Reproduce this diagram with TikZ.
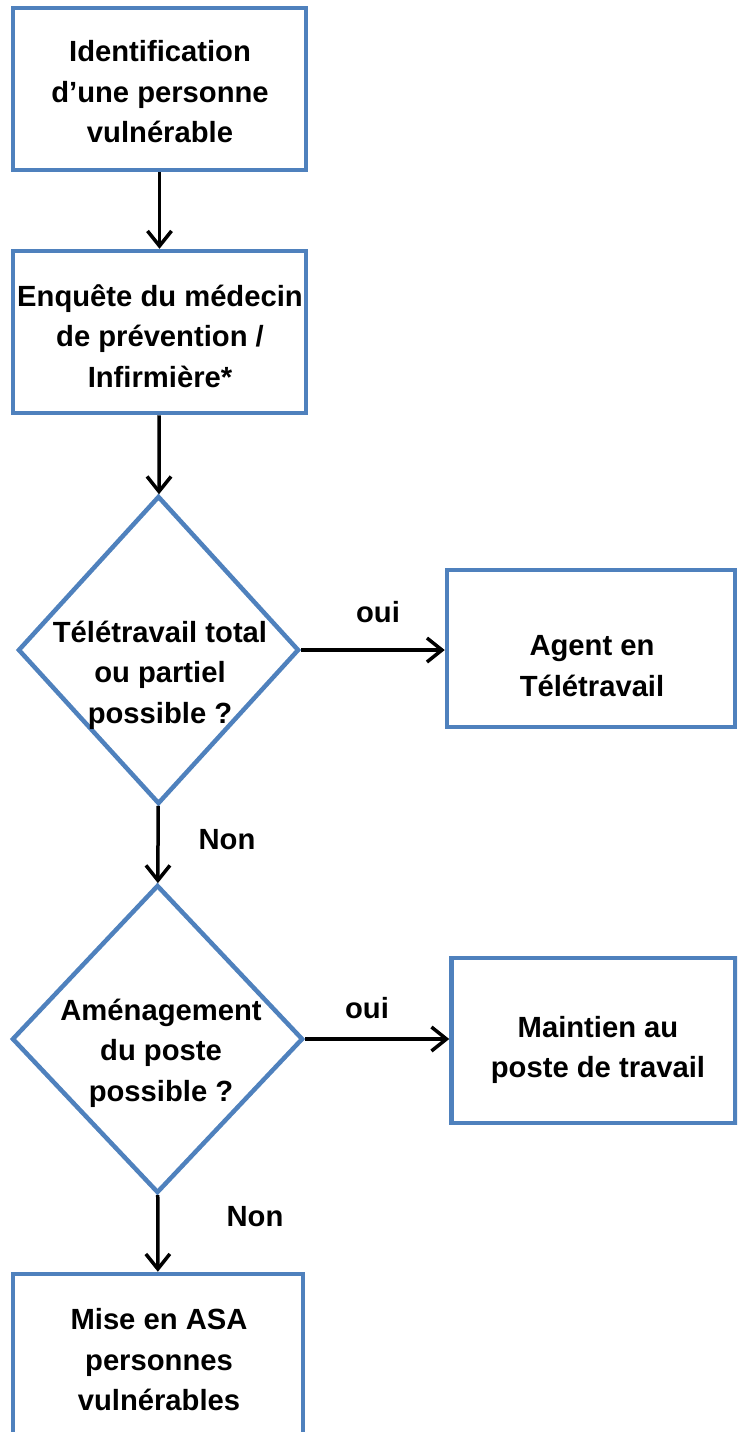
\documentclass[tikz,border=0pt]{standalone}
\usepackage{fontspec}
\setmainfont{Liberation Sans}
\usetikzlibrary{shapes.geometric}
\usetikzlibrary{arrows.meta}
\definecolor{boxblue}{RGB}{79,129,189}

\begin{document}
\begin{tikzpicture}[x=1pt,y=-1pt,
    etape/.style={draw=boxblue,line width=4.5pt,inner sep=0pt,minimum height=162pt},
    choix/.style={diamond,draw=boxblue,line width=4.5pt,inner sep=0pt},
    texte/.style={align=center,font=\fontsize{29.2}{40.5}\selectfont\bfseries},
    fleche/.style={line width=3.5pt,-{Straight Barb[length=15pt,width=24pt]}}]
    \useasboundingbox (0,0) rectangle (737,1432);
    \clip (0,0) rectangle (737,1432);
    % les cases
    \node[etape,minimum width=293pt] (ident) at (159.5,89) {};
    \node[etape,minimum width=293pt] (enquete) at (159.5,332) {};
    \node[choix,minimum width=281pt,minimum height=308pt] (teletravail) at (158.5,650) {};
    \node[etape,minimum width=288pt,minimum height=157pt] (agent) at (591,648.5) {};
    \node[choix,minimum width=291pt,minimum height=308pt] (amenag) at (157.5,1039) {};
    \node[etape,minimum width=284pt,minimum height=165pt] (maintien) at (593.5,1040.5) {};
    \node[etape,minimum width=290pt] (asa) at (158,1355) {};
    % les textes
    \node[texte] (identtxt) at (160,92) {Identification\\d’une personne\\vulnérable};
    \node[texte] (enquetetxt) at (160,336) {Enquête du médecin\\de prévention /\\Infirmière*};
    \node[texte] (teletravailtxt) at (160,675) {Télétravail total\\ou partiel\\possible ?};
    \node[texte] (agenttxt) at (592,666) {Agent en\\Télétravail};
    \node[texte] (amenagtxt) at (161,1053) {Aménagement\\du poste\\possible ?};
    \node[texte] (maintientxt) at (598,1050) {Maintien au\\poste de travail};
    \node[texte] (asatxt) at (159,1360) {Mise en ASA\\personnes\\vulnérables};
    % les fleches
    \draw[fleche] (ident) -- (enquete);
    \draw[fleche] (enquete) -- (teletravail);
    \draw[fleche] (teletravail.east) -- (teletravail.east -| agent.west);
    \draw[fleche] (teletravail) -- (amenag);
    \draw[fleche] (amenag.east) -- (amenag.east -| maintien.west);
    \draw[fleche] (amenag) -- (asa);
    \node[texte] (oui1) at (378,612) {oui};
    \node[texte] (non1) at (227,840) {Non};
    \node[texte] (oui2) at (367,1008) {oui};
    \node[texte] (non2) at (255,1217) {Non};
\end{tikzpicture}
\end{document}
